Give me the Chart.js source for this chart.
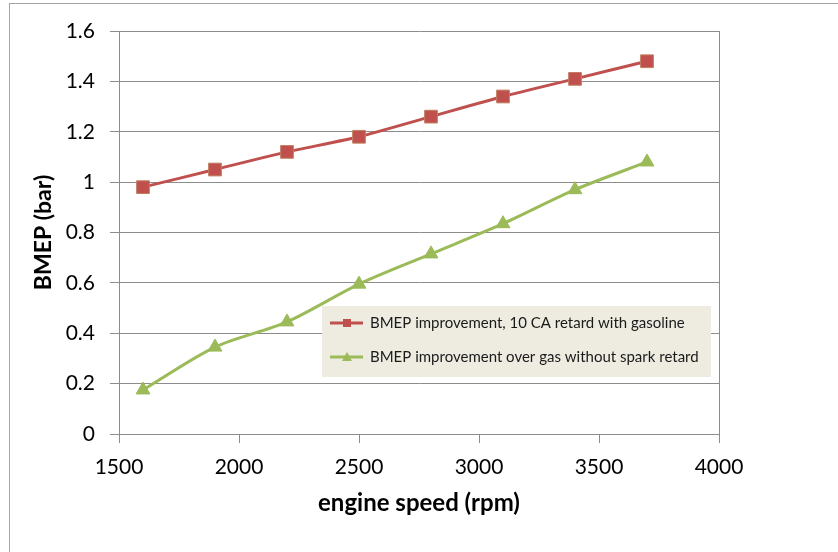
<!DOCTYPE html>
<html>
<head>
<meta charset="utf-8">
<script src="https://cdn.jsdelivr.net/npm/chart.js@4.4.1/dist/chart.umd.min.js"></script>
<style>
  html, body { margin: 0; padding: 0; background: #fff; }
  #wrap { width: 838px; height: 552px; }
</style>
</head>
<body>
<div id="wrap"><canvas id="bmepChart" width="838" height="552"></canvas></div>
<script>
// engine speed (rpm)
const speeds = [1600, 1900, 2200, 2500, 2800, 3100, 3400, 3700];
// BMEP improvement (bar)
const retardGasoline = [0.98, 1.05, 1.12, 1.18, 1.26, 1.34, 1.41, 1.48];
const noSparkRetard = [0.175, 0.345, 0.445, 0.595, 0.715, 0.835, 0.97, 1.08];
const seriesLabels = [
  "BMEP improvement, 10 CA retard with gasoline",
  "BMEP improvement over gas without spark retard"
];
const xTicks = [1500, 2000, 2500, 3000, 3500, 4000];
const yTicks = [0, 0.2, 0.4, 0.6, 0.8, 1, 1.2, 1.4, 1.6];

const RED = "#c0504d";
const GREEN = "#9bbb59";
const FONT = "Lato, 'Open Sans', sans-serif";

function toPoints(vals) {
  return speeds.map((s, i) => ({ x: s, y: vals[i] }));
}

// frame around the whole chart, like the Excel chart area
const framePlugin = {
  id: "frame",
  beforeDraw(chart) {
    const ctx = chart.ctx;
    ctx.save();
    ctx.strokeStyle = "#a6a6a6";
    ctx.lineWidth = 1;
    ctx.strokeRect(9.5, 3.5, 1000, 1000);
    ctx.restore();
  }
};

// legend box sitting inside the plot area
const innerLegend = {
  id: "innerLegend",
  afterDraw(chart) {
    const ctx = chart.ctx;
    const area = chart.chartArea;
    const bx = area.left + 203, by = area.top + 275, bw = 389, bh = 71;
    ctx.save();
    ctx.fillStyle = "#eeece1";
    ctx.fillRect(bx, by, bw, bh);
    const rows = [by + 17, by + 51];
    chart.data.datasets.forEach((ds, i) => {
      const y = rows[i];
      ctx.strokeStyle = ds.borderColor;
      ctx.lineWidth = 3;
      ctx.beginPath();
      ctx.moveTo(bx + 8, y);
      ctx.lineTo(bx + 41, y);
      ctx.stroke();
      ctx.fillStyle = ds.pointBackgroundColor;
      if (ds.pointStyle === "rect") {
        ctx.fillRect(bx + 21, y - 4, 8, 8);
      } else {
        ctx.beginPath();
        ctx.moveTo(bx + 25, y - 5);
        ctx.lineTo(bx + 30, y + 4);
        ctx.lineTo(bx + 20, y + 4);
        ctx.closePath();
        ctx.fill();
      }
      ctx.fillStyle = "#1a1a1a";
      ctx.font = "15px " + FONT;
      ctx.textBaseline = "middle";
      ctx.textAlign = "left";
      ctx.fillText(ds.label, bx + 48, y);
    });
    ctx.restore();
  }
};

new Chart(document.getElementById("bmepChart"), {
  type: "line",
  data: {
    datasets: [
      {
        label: seriesLabels[0],
        data: toPoints(retardGasoline),
        borderColor: RED,
        borderWidth: 3,
        pointStyle: "rect",
        pointRadius: 9,
        pointBackgroundColor: RED,
        pointBorderColor: "#c08060",
        pointBorderWidth: 1,
        tension: 0.2
      },
      {
        label: seriesLabels[1],
        data: toPoints(noSparkRetard),
        borderColor: GREEN,
        borderWidth: 3,
        pointStyle: "triangle",
        pointRadius: 8,
        pointBackgroundColor: GREEN,
        pointBorderColor: GREEN,
        pointBorderWidth: 1,
        tension: 0.3
      }
    ]
  },
  options: {
    responsive: false,
    animation: false,
    layout: { padding: { top: 31, right: 119, left: 0, bottom: 0 } },
    plugins: {
      legend: { display: false },
      tooltip: { enabled: false }
    },
    scales: {
      x: {
        type: "linear",
        min: 1500,
        max: 4000,
        afterBuildTicks(scale) { scale.ticks = xTicks.map(v => ({ value: v })); },
        afterFit(scale) { scale.height = 118; },
        border: { color: "#8c8c8c", width: 1 },
        grid: {
          color: ctx => (ctx.tick && ctx.tick.value === 4000 ? "#8c8c8c" : "rgba(0,0,0,0)"),
          tickColor: "#8c8c8c",
          tickLength: 9,
          drawTicks: true
        },
        ticks: {
          color: "#000",
          padding: 12,
          maxRotation: 0,
          font: { family: FONT, size: 21 },
          callback: v => String(v)
        },
        title: {
          display: true,
          text: "engine speed (rpm)",
          color: "#000",
          font: { family: FONT, size: 24, weight: "bold" },
          padding: { top: 0, bottom: 34 }
        }
      },
      y: {
        min: 0,
        max: 1.6,
        afterBuildTicks(scale) { scale.ticks = yTicks.map(v => ({ value: v })); },
        afterFit(scale) { scale.width = 119; },
        border: { color: "#8c8c8c", width: 1 },
        grid: {
          color: "#8c8c8c",
          tickColor: "#8c8c8c",
          tickLength: 9
        },
        ticks: {
          color: "#000",
          padding: 15,
          font: { family: FONT, size: 21 },
          callback: v => String(Math.round(v * 10) / 10)
        },
        title: {
          display: true,
          text: "BMEP (bar)",
          color: "#000",
          font: { family: FONT, size: 23, weight: "bold" },
          padding: { top: 30, bottom: 0 }
        }
      }
    }
  },
  plugins: [framePlugin, innerLegend]
});
</script>
</body>
</html>
